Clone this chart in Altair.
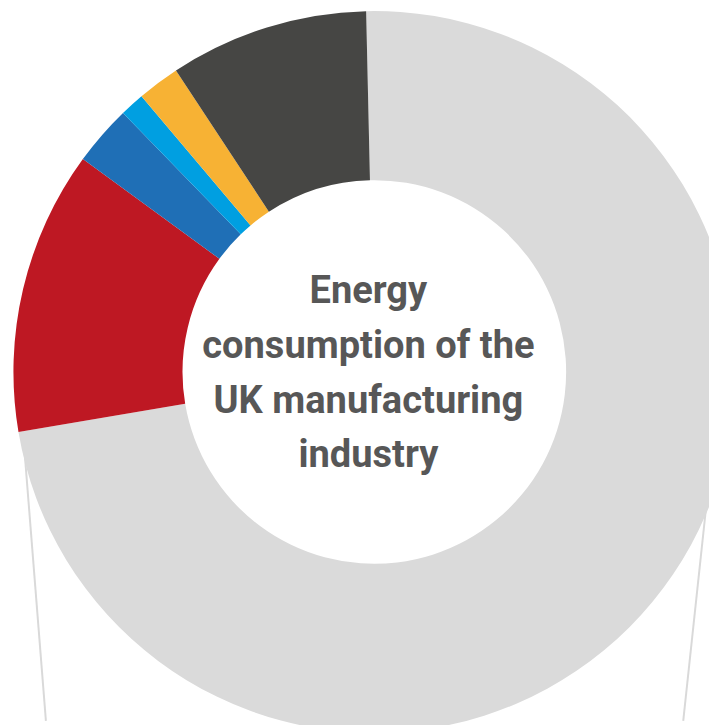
import math
import altair as alt
import pandas as pd

# ---- data ----
segments = ["Grey segment", "Red segment", "Blue segment",
            "Light blue segment", "Orange segment", "Dark segment"]
shares = [72.7, 12.7, 2.7, 1.1, 1.9, 8.9]
colors = ["#DADADA", "#BE1823", "#1F6FB6", "#009FE1", "#F7B234", "#464644"]
title_text = "Energy\nconsumption of the\nUK manufacturing\nindustry"

# leader lines, in units of the outer radius relative to the donut centre
leader_x1 = [-0.973, 0.941]
leader_y1 = [-0.173, -0.173]
leader_x2 = [-0.910, 0.856]
leader_y2 = [-0.967, -0.967]

# ---- layout ----
W, H = 709, 717
CX, CY = 370.5, 364
R_OUT, R_IN = 365, 194
START = math.radians(-1.3)

donut_df = pd.DataFrame({"segment": segments, "share": shares,
                         "order": list(range(len(segments)))})
lead_df = pd.DataFrame({"x1": leader_x1, "y1": leader_y1,
                        "x2": leader_x2, "y2": leader_y2})
text_df = pd.DataFrame({"label": [title_text]})

xs = alt.Scale(domain=[-1, 1], range=[CX - R_OUT, CX + R_OUT])
ys = alt.Scale(domain=[-1, 1], range=[CY + R_OUT, CY - R_OUT])

rules = alt.Chart(lead_df).mark_rule(color="#D9D9D9", strokeWidth=2).encode(
    x=alt.X("x1:Q", scale=xs, axis=None),
    y=alt.Y("y1:Q", scale=ys, axis=None),
    x2="x2:Q",
    y2="y2:Q",
)

arc = alt.Chart(donut_df).mark_arc(outerRadius=R_OUT, innerRadius=R_IN).encode(
    theta=alt.Theta("share:Q", stack=True,
                    scale=alt.Scale(domain=[0, sum(shares)],
                                    range=[START, START + 2 * math.pi])),
    color=alt.Color("segment:N", scale=alt.Scale(domain=segments, range=colors),
                    legend=None),
    order=alt.Order("order:Q"),
    x=alt.value(CX),
    y=alt.value(CY),
)

text = alt.Chart(text_df).mark_text(
    font="Roboto",
    fontWeight="bold",
    fontSize=38.5,
    color="#575757",
    align="center",
    baseline="alphabetic",
    lineBreak="\n",
    lineHeight=55.3,
).encode(
    text="label:N",
    x=alt.value(364.5),
    y=alt.value(294.7),
)

chart = alt.layer(rules, arc, text).properties(
    width=W, height=H, padding=0, autosize="none", background="white"
).configure_view(stroke=None)

chart.save("out.html", embed_options={"renderer": "svg", "actions": False})
